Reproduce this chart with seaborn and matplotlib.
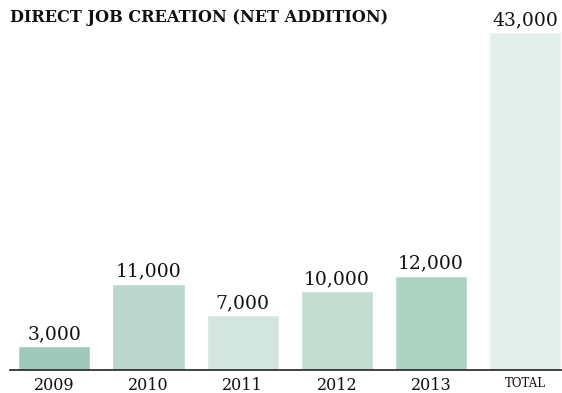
import matplotlib
matplotlib.use("Agg")
import matplotlib.pyplot as plt
import seaborn as sns
import pandas as pd

# Данные
years = ["2009", "2010", "2011", "2012", "2013", "TOTAL"]
jobs = [3000, 11000, 7000, 10000, 12000, 43000]
colors = ["#9fc9ba", "#b9d7cd", "#d3e5df", "#c3ddd2", "#aed3c4", "#e3efeb"]

df = pd.DataFrame({"year": years, "jobs": jobs})

sns.set_style("white")
plt.rcParams["font.family"] = ["DejaVu Serif"]

fig = plt.figure(figsize=(5.62, 3.93), dpi=100)
ax = fig.add_axes([10 / 562, 23 / 393, 552 / 562, 370 / 393])

sns.barplot(data=df, x="year", y="jobs", hue="year", palette=colors,
            legend=False, width=0.766, saturation=1, ax=ax)

ax.set_xlim(-0.47, 5.39)
ax.set_ylim(0, 43000 * 370 / 338)

# Подписи значений над столбцами
for i, v in enumerate(jobs):
    ax.annotate(f"{v:,}", (i, v), xytext=(0, 5), textcoords="offset points",
                ha="center", va="baseline", fontsize=13.5, color="#111111")

for s in ["top", "right", "left"]:
    ax.spines[s].set_visible(False)
ax.spines["bottom"].set_color("#222222")
ax.spines["bottom"].set_linewidth(1.2)
ax.set_yticks([])
ax.set_xlabel("")
ax.set_ylabel("")
ax.tick_params(axis="x", length=0, pad=5, labelsize=11.5, labelcolor="#111111")
for lbl in ax.get_xticklabels():
    if lbl.get_text() == "TOTAL":
        lbl.set_fontsize(8.5)

fig.text(10 / 562, 1 - 18 / 393, "DIRECT JOB CREATION (NET ADDITION)",
         fontsize=11.6, fontweight="bold", va="center", ha="left", color="#111111")

fig.savefig("out.png", dpi=100)
